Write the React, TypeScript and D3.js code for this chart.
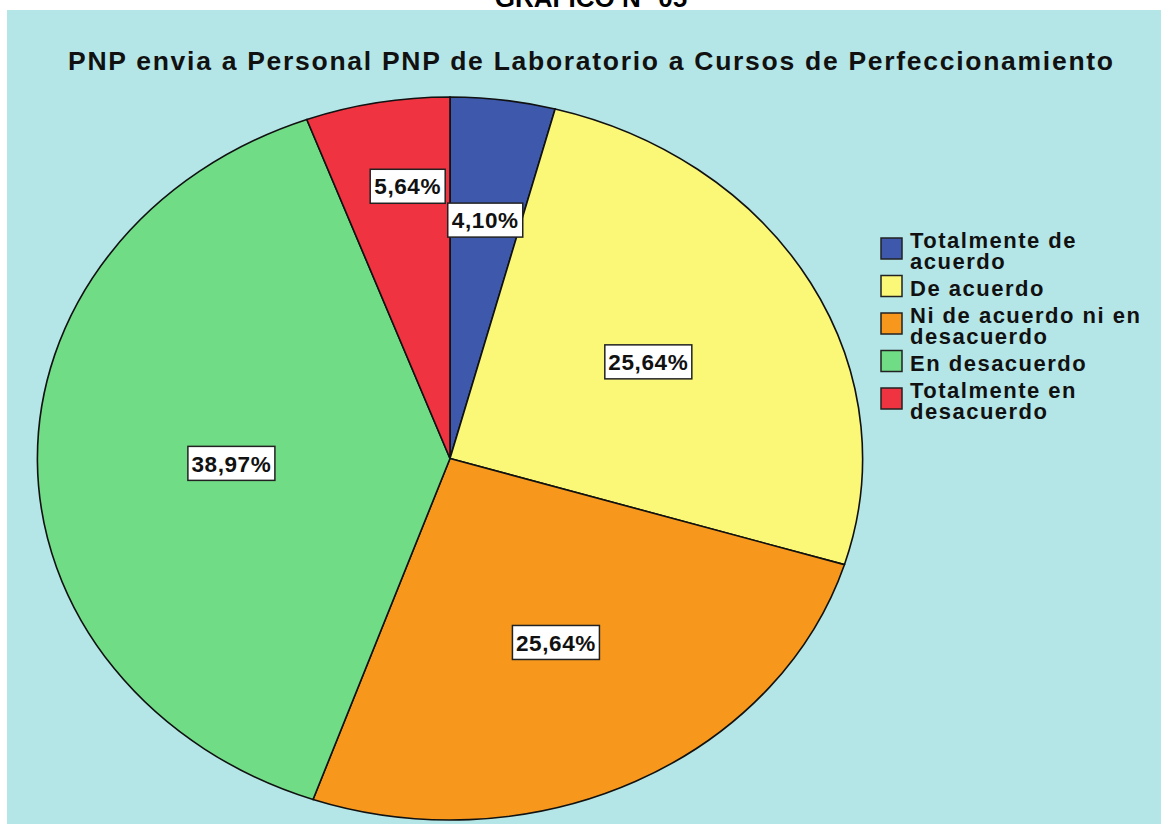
import React from "react";
import * as d3 from "d3";

const categories = [
  "Totalmente de acuerdo",
  "De acuerdo",
  "Ni de acuerdo ni en desacuerdo",
  "En desacuerdo",
  "Totalmente en desacuerdo",
];
const percents = [4.1, 25.64, 25.64, 38.97, 5.64];
const legendLines = [
  ["Totalmente de", "acuerdo"],
  ["De acuerdo"],
  ["Ni de acuerdo ni en", "desacuerdo"],
  ["En desacuerdo"],
  ["Totalmente en", "desacuerdo"],
];
const colors = ["#3e58ac", "#fbf878", "#f7981d", "#70dc86", "#ef3340"];
const title = "PNP envia a Personal PNP de Laboratorio a Cursos de Perfeccionamiento";
const headTitle = "GRÁFICO N° 05";

// layout
const W = 1161;
const H = 824;
const cx = 450;
const cy = 458.5;
const rx = 412.6;
const ry = 361.5;
const labelRadius = [0.665, 0.55, 0.57, 0.53, 0.76];
const labelAngleShift = [0, 0, 0, -1, 2.4];

const fmt = (v: number) => v.toFixed(2).replace(".", ",") + "%";

export default function App() {
  const pie = d3.pie<number>().sort(null).value((d) => d)(percents);
  const arc = d3.arc<d3.PieArcDatum<number>>().innerRadius(0).outerRadius(ry);
  const sx = rx / ry;

  const legendX = 881;
  const lineH = 21;
  const itemGap = 27;
  let baseline = 248;
  const legendItems = legendLines.map((lines, i) => {
    const first = baseline;
    const last = first + (lines.length - 1) * lineH;
    baseline = last + itemGap;
    return { lines, first, last, i };
  });

  return (
    <svg
      width={W}
      height={H}
      style={{ position: "absolute", left: 0, top: 0, fontFamily: "'Liberation Sans', Arial, sans-serif" }}
    >
      <rect x={0} y={0} width={W} height={H} fill="#ffffff" />
      <text x={591} y={7} textAnchor="middle" fontSize={26} fontWeight="bold" fill="#000">
        {headTitle}
      </text>
      <rect x={7} y={10} width={W - 7} height={H - 10} fill="#b4e6e7" />
      <text x={68} y={70} fontSize={26.5} fontWeight="bold" textLength={1045} lengthAdjust="spacing" fill="#111">
        {title}
      </text>
      <g transform={`translate(${cx},${cy}) scale(${sx},1)`}>
        {pie.map((p, i) => (
          <path
            key={categories[i]}
            d={arc(p) || ""}
            fill={colors[i]}
            stroke="#111"
            strokeWidth={1.6}
            vectorEffect="non-scaling-stroke"
          />
        ))}
      </g>
      {pie.map((p, i) => {
        const a = (p.startAngle + p.endAngle) / 2 + (labelAngleShift[i] * Math.PI) / 180;
        const x = cx + Math.sin(a) * rx * labelRadius[i];
        const y = cy - Math.cos(a) * ry * labelRadius[i];
        const txt = fmt(percents[i]);
        const tw = txt.length === 6 ? 78 : 66;
        const bw = tw + 9;
        const bh = 34;
        return (
          <g key={"l" + i}>
            <rect
              x={x - bw / 2}
              y={y - bh / 2}
              width={bw}
              height={bh}
              fill="#ffffff"
              stroke="#222"
              strokeWidth={1.5}
            />
            <text
              x={x}
              y={y + 8.2}
              textAnchor="middle"
              fontSize={22.5}
              fontWeight="bold"
              letterSpacing={0.6}
              fill="#111"
            >
              {txt}
            </text>
          </g>
        );
      })}
      {legendItems.map((it) => {
        const sc = (it.first + it.last) / 2 - 10;
        return (
          <g key={"lg" + it.i}>
            <rect
              x={legendX}
              y={sc - 10.5}
              width={21}
              height={21}
              fill={colors[it.i]}
              stroke="#222"
              strokeWidth={1.5}
            />
            {it.lines.map((ln, j) => (
              <text
                key={j}
                x={910}
                y={it.first + j * lineH}
                fontSize={22}
                fontWeight="bold"
                letterSpacing={1.5}
                fill="#111"
              >
                {ln}
              </text>
            ))}
          </g>
        );
      })}
    </svg>
  );
}
